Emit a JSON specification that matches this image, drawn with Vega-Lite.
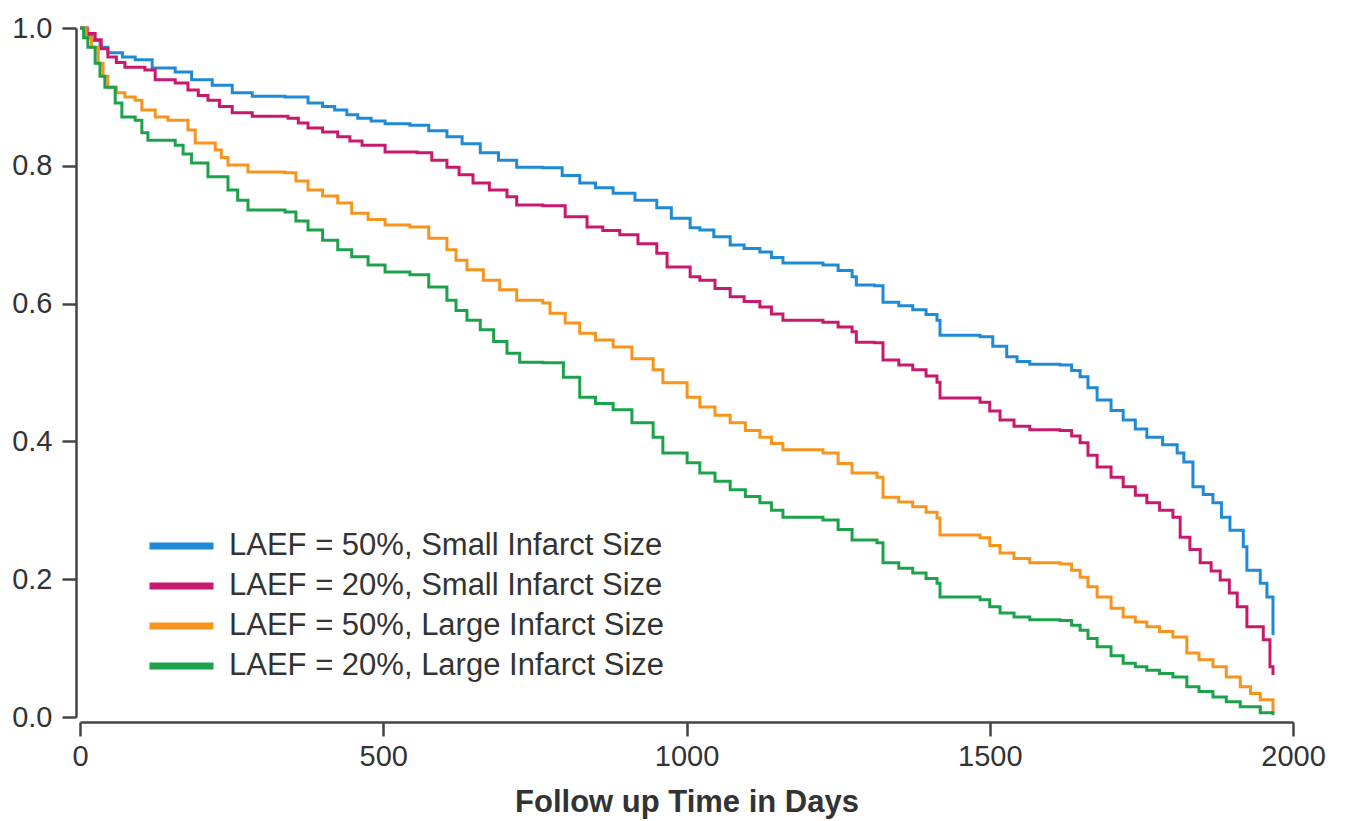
{
  "$schema": "https://vega.github.io/schema/vega-lite/v6.json",
  "width": 1213,
  "height": 689,
  "autosize": {"type": "none"},
  "padding": {"left": 80, "top": 28, "right": 52, "bottom": 104},
  "background": "white",
  "config": {"view": {"stroke": null}, "font": "Liberation Sans"},
  "datasets": {
    "km": [
      {"group": "LAEF = 50%, Small Infarct Size", "day": 0, "survival": 1.0},
      {"group": "LAEF = 50%, Small Infarct Size", "day": 10, "survival": 0.99},
      {"group": "LAEF = 50%, Small Infarct Size", "day": 20, "survival": 0.982},
      {"group": "LAEF = 50%, Small Infarct Size", "day": 33, "survival": 0.972},
      {"group": "LAEF = 50%, Small Infarct Size", "day": 46, "survival": 0.964},
      {"group": "LAEF = 50%, Small Infarct Size", "day": 70, "survival": 0.958},
      {"group": "LAEF = 50%, Small Infarct Size", "day": 91, "survival": 0.954},
      {"group": "LAEF = 50%, Small Infarct Size", "day": 119, "survival": 0.942},
      {"group": "LAEF = 50%, Small Infarct Size", "day": 157, "survival": 0.936},
      {"group": "LAEF = 50%, Small Infarct Size", "day": 184, "survival": 0.925},
      {"group": "LAEF = 50%, Small Infarct Size", "day": 218, "survival": 0.917},
      {"group": "LAEF = 50%, Small Infarct Size", "day": 251, "survival": 0.906},
      {"group": "LAEF = 50%, Small Infarct Size", "day": 284, "survival": 0.901},
      {"group": "LAEF = 50%, Small Infarct Size", "day": 338, "survival": 0.9},
      {"group": "LAEF = 50%, Small Infarct Size", "day": 376, "survival": 0.891},
      {"group": "LAEF = 50%, Small Infarct Size", "day": 400, "survival": 0.886},
      {"group": "LAEF = 50%, Small Infarct Size", "day": 420, "survival": 0.881},
      {"group": "LAEF = 50%, Small Infarct Size", "day": 440, "survival": 0.874},
      {"group": "LAEF = 50%, Small Infarct Size", "day": 458, "survival": 0.869},
      {"group": "LAEF = 50%, Small Infarct Size", "day": 480, "survival": 0.865},
      {"group": "LAEF = 50%, Small Infarct Size", "day": 503, "survival": 0.861},
      {"group": "LAEF = 50%, Small Infarct Size", "day": 544, "survival": 0.859},
      {"group": "LAEF = 50%, Small Infarct Size", "day": 575, "survival": 0.851},
      {"group": "LAEF = 50%, Small Infarct Size", "day": 605, "survival": 0.842},
      {"group": "LAEF = 50%, Small Infarct Size", "day": 630, "survival": 0.832},
      {"group": "LAEF = 50%, Small Infarct Size", "day": 660, "survival": 0.819},
      {"group": "LAEF = 50%, Small Infarct Size", "day": 690, "survival": 0.808},
      {"group": "LAEF = 50%, Small Infarct Size", "day": 720, "survival": 0.798},
      {"group": "LAEF = 50%, Small Infarct Size", "day": 763, "survival": 0.797},
      {"group": "LAEF = 50%, Small Infarct Size", "day": 795, "survival": 0.786},
      {"group": "LAEF = 50%, Small Infarct Size", "day": 824, "survival": 0.775},
      {"group": "LAEF = 50%, Small Infarct Size", "day": 850, "survival": 0.768},
      {"group": "LAEF = 50%, Small Infarct Size", "day": 879, "survival": 0.76},
      {"group": "LAEF = 50%, Small Infarct Size", "day": 915, "survival": 0.75},
      {"group": "LAEF = 50%, Small Infarct Size", "day": 951, "survival": 0.739},
      {"group": "LAEF = 50%, Small Infarct Size", "day": 975, "survival": 0.724},
      {"group": "LAEF = 50%, Small Infarct Size", "day": 1006, "survival": 0.71},
      {"group": "LAEF = 50%, Small Infarct Size", "day": 1022, "survival": 0.707},
      {"group": "LAEF = 50%, Small Infarct Size", "day": 1045, "survival": 0.697},
      {"group": "LAEF = 50%, Small Infarct Size", "day": 1072, "survival": 0.685},
      {"group": "LAEF = 50%, Small Infarct Size", "day": 1095, "survival": 0.68},
      {"group": "LAEF = 50%, Small Infarct Size", "day": 1121, "survival": 0.675},
      {"group": "LAEF = 50%, Small Infarct Size", "day": 1140, "survival": 0.667},
      {"group": "LAEF = 50%, Small Infarct Size", "day": 1159, "survival": 0.659},
      {"group": "LAEF = 50%, Small Infarct Size", "day": 1225, "survival": 0.656},
      {"group": "LAEF = 50%, Small Infarct Size", "day": 1250, "survival": 0.648},
      {"group": "LAEF = 50%, Small Infarct Size", "day": 1273, "survival": 0.639},
      {"group": "LAEF = 50%, Small Infarct Size", "day": 1280, "survival": 0.627},
      {"group": "LAEF = 50%, Small Infarct Size", "day": 1310, "survival": 0.626},
      {"group": "LAEF = 50%, Small Infarct Size", "day": 1324, "survival": 0.602},
      {"group": "LAEF = 50%, Small Infarct Size", "day": 1350, "survival": 0.597},
      {"group": "LAEF = 50%, Small Infarct Size", "day": 1373, "survival": 0.591},
      {"group": "LAEF = 50%, Small Infarct Size", "day": 1395, "survival": 0.584},
      {"group": "LAEF = 50%, Small Infarct Size", "day": 1413, "survival": 0.576},
      {"group": "LAEF = 50%, Small Infarct Size", "day": 1418, "survival": 0.554},
      {"group": "LAEF = 50%, Small Infarct Size", "day": 1484, "survival": 0.552},
      {"group": "LAEF = 50%, Small Infarct Size", "day": 1505, "survival": 0.538},
      {"group": "LAEF = 50%, Small Infarct Size", "day": 1528, "survival": 0.523},
      {"group": "LAEF = 50%, Small Infarct Size", "day": 1545, "survival": 0.516},
      {"group": "LAEF = 50%, Small Infarct Size", "day": 1566, "survival": 0.512},
      {"group": "LAEF = 50%, Small Infarct Size", "day": 1616, "survival": 0.511},
      {"group": "LAEF = 50%, Small Infarct Size", "day": 1635, "survival": 0.503},
      {"group": "LAEF = 50%, Small Infarct Size", "day": 1649, "survival": 0.494},
      {"group": "LAEF = 50%, Small Infarct Size", "day": 1662, "survival": 0.478},
      {"group": "LAEF = 50%, Small Infarct Size", "day": 1677, "survival": 0.46},
      {"group": "LAEF = 50%, Small Infarct Size", "day": 1700, "survival": 0.445},
      {"group": "LAEF = 50%, Small Infarct Size", "day": 1720, "survival": 0.431},
      {"group": "LAEF = 50%, Small Infarct Size", "day": 1740, "survival": 0.418},
      {"group": "LAEF = 50%, Small Infarct Size", "day": 1759, "survival": 0.406},
      {"group": "LAEF = 50%, Small Infarct Size", "day": 1785, "survival": 0.395},
      {"group": "LAEF = 50%, Small Infarct Size", "day": 1809, "survival": 0.383},
      {"group": "LAEF = 50%, Small Infarct Size", "day": 1820, "survival": 0.37},
      {"group": "LAEF = 50%, Small Infarct Size", "day": 1835, "survival": 0.334},
      {"group": "LAEF = 50%, Small Infarct Size", "day": 1852, "survival": 0.323},
      {"group": "LAEF = 50%, Small Infarct Size", "day": 1868, "survival": 0.311},
      {"group": "LAEF = 50%, Small Infarct Size", "day": 1882, "survival": 0.29},
      {"group": "LAEF = 50%, Small Infarct Size", "day": 1896, "survival": 0.271},
      {"group": "LAEF = 50%, Small Infarct Size", "day": 1918, "survival": 0.247},
      {"group": "LAEF = 50%, Small Infarct Size", "day": 1924, "survival": 0.213},
      {"group": "LAEF = 50%, Small Infarct Size", "day": 1946, "survival": 0.194},
      {"group": "LAEF = 50%, Small Infarct Size", "day": 1957, "survival": 0.174},
      {"group": "LAEF = 50%, Small Infarct Size", "day": 1967, "survival": 0.119},

      {"group": "LAEF = 20%, Small Infarct Size", "day": 0, "survival": 1.0},
      {"group": "LAEF = 20%, Small Infarct Size", "day": 12, "survival": 0.992},
      {"group": "LAEF = 20%, Small Infarct Size", "day": 25, "survival": 0.983},
      {"group": "LAEF = 20%, Small Infarct Size", "day": 35, "survival": 0.97},
      {"group": "LAEF = 20%, Small Infarct Size", "day": 46, "survival": 0.958},
      {"group": "LAEF = 20%, Small Infarct Size", "day": 60, "survival": 0.95},
      {"group": "LAEF = 20%, Small Infarct Size", "day": 74, "survival": 0.943},
      {"group": "LAEF = 20%, Small Infarct Size", "day": 107, "survival": 0.939},
      {"group": "LAEF = 20%, Small Infarct Size", "day": 124, "survival": 0.925},
      {"group": "LAEF = 20%, Small Infarct Size", "day": 157, "survival": 0.92},
      {"group": "LAEF = 20%, Small Infarct Size", "day": 178, "survival": 0.91},
      {"group": "LAEF = 20%, Small Infarct Size", "day": 195, "survival": 0.902},
      {"group": "LAEF = 20%, Small Infarct Size", "day": 211, "survival": 0.895},
      {"group": "LAEF = 20%, Small Infarct Size", "day": 230, "survival": 0.886},
      {"group": "LAEF = 20%, Small Infarct Size", "day": 251, "survival": 0.877},
      {"group": "LAEF = 20%, Small Infarct Size", "day": 284, "survival": 0.872},
      {"group": "LAEF = 20%, Small Infarct Size", "day": 343, "survival": 0.869},
      {"group": "LAEF = 20%, Small Infarct Size", "day": 360, "survival": 0.862},
      {"group": "LAEF = 20%, Small Infarct Size", "day": 376, "survival": 0.855},
      {"group": "LAEF = 20%, Small Infarct Size", "day": 400, "survival": 0.849},
      {"group": "LAEF = 20%, Small Infarct Size", "day": 425, "survival": 0.842},
      {"group": "LAEF = 20%, Small Infarct Size", "day": 445, "survival": 0.836},
      {"group": "LAEF = 20%, Small Infarct Size", "day": 465, "survival": 0.83},
      {"group": "LAEF = 20%, Small Infarct Size", "day": 503, "survival": 0.82},
      {"group": "LAEF = 20%, Small Infarct Size", "day": 556, "survival": 0.819},
      {"group": "LAEF = 20%, Small Infarct Size", "day": 580, "survival": 0.808},
      {"group": "LAEF = 20%, Small Infarct Size", "day": 605, "survival": 0.798},
      {"group": "LAEF = 20%, Small Infarct Size", "day": 625, "survival": 0.787},
      {"group": "LAEF = 20%, Small Infarct Size", "day": 648, "survival": 0.775},
      {"group": "LAEF = 20%, Small Infarct Size", "day": 675, "survival": 0.765},
      {"group": "LAEF = 20%, Small Infarct Size", "day": 704, "survival": 0.755},
      {"group": "LAEF = 20%, Small Infarct Size", "day": 720, "survival": 0.743},
      {"group": "LAEF = 20%, Small Infarct Size", "day": 763, "survival": 0.742},
      {"group": "LAEF = 20%, Small Infarct Size", "day": 800, "survival": 0.726},
      {"group": "LAEF = 20%, Small Infarct Size", "day": 836, "survival": 0.711},
      {"group": "LAEF = 20%, Small Infarct Size", "day": 862, "survival": 0.706},
      {"group": "LAEF = 20%, Small Infarct Size", "day": 890, "survival": 0.7},
      {"group": "LAEF = 20%, Small Infarct Size", "day": 920, "survival": 0.687},
      {"group": "LAEF = 20%, Small Infarct Size", "day": 951, "survival": 0.673},
      {"group": "LAEF = 20%, Small Infarct Size", "day": 968, "survival": 0.653},
      {"group": "LAEF = 20%, Small Infarct Size", "day": 1006, "survival": 0.639},
      {"group": "LAEF = 20%, Small Infarct Size", "day": 1022, "survival": 0.634},
      {"group": "LAEF = 20%, Small Infarct Size", "day": 1047, "survival": 0.622},
      {"group": "LAEF = 20%, Small Infarct Size", "day": 1072, "survival": 0.61},
      {"group": "LAEF = 20%, Small Infarct Size", "day": 1095, "survival": 0.603},
      {"group": "LAEF = 20%, Small Infarct Size", "day": 1121, "survival": 0.595},
      {"group": "LAEF = 20%, Small Infarct Size", "day": 1140, "survival": 0.585},
      {"group": "LAEF = 20%, Small Infarct Size", "day": 1159, "survival": 0.576},
      {"group": "LAEF = 20%, Small Infarct Size", "day": 1225, "survival": 0.573},
      {"group": "LAEF = 20%, Small Infarct Size", "day": 1250, "survival": 0.566},
      {"group": "LAEF = 20%, Small Infarct Size", "day": 1273, "survival": 0.559},
      {"group": "LAEF = 20%, Small Infarct Size", "day": 1280, "survival": 0.544},
      {"group": "LAEF = 20%, Small Infarct Size", "day": 1310, "survival": 0.543},
      {"group": "LAEF = 20%, Small Infarct Size", "day": 1324, "survival": 0.518},
      {"group": "LAEF = 20%, Small Infarct Size", "day": 1350, "survival": 0.511},
      {"group": "LAEF = 20%, Small Infarct Size", "day": 1373, "survival": 0.504},
      {"group": "LAEF = 20%, Small Infarct Size", "day": 1395, "survival": 0.495},
      {"group": "LAEF = 20%, Small Infarct Size", "day": 1413, "survival": 0.486},
      {"group": "LAEF = 20%, Small Infarct Size", "day": 1418, "survival": 0.463},
      {"group": "LAEF = 20%, Small Infarct Size", "day": 1484, "survival": 0.457},
      {"group": "LAEF = 20%, Small Infarct Size", "day": 1500, "survival": 0.444},
      {"group": "LAEF = 20%, Small Infarct Size", "day": 1517, "survival": 0.431},
      {"group": "LAEF = 20%, Small Infarct Size", "day": 1540, "survival": 0.422},
      {"group": "LAEF = 20%, Small Infarct Size", "day": 1566, "survival": 0.417},
      {"group": "LAEF = 20%, Small Infarct Size", "day": 1616, "survival": 0.416},
      {"group": "LAEF = 20%, Small Infarct Size", "day": 1635, "survival": 0.408},
      {"group": "LAEF = 20%, Small Infarct Size", "day": 1649, "survival": 0.398},
      {"group": "LAEF = 20%, Small Infarct Size", "day": 1662, "survival": 0.38},
      {"group": "LAEF = 20%, Small Infarct Size", "day": 1677, "survival": 0.363},
      {"group": "LAEF = 20%, Small Infarct Size", "day": 1700, "survival": 0.348},
      {"group": "LAEF = 20%, Small Infarct Size", "day": 1720, "survival": 0.334},
      {"group": "LAEF = 20%, Small Infarct Size", "day": 1740, "survival": 0.322},
      {"group": "LAEF = 20%, Small Infarct Size", "day": 1759, "survival": 0.311},
      {"group": "LAEF = 20%, Small Infarct Size", "day": 1780, "survival": 0.3},
      {"group": "LAEF = 20%, Small Infarct Size", "day": 1802, "survival": 0.29},
      {"group": "LAEF = 20%, Small Infarct Size", "day": 1814, "survival": 0.261},
      {"group": "LAEF = 20%, Small Infarct Size", "day": 1830, "survival": 0.243},
      {"group": "LAEF = 20%, Small Infarct Size", "day": 1847, "survival": 0.224},
      {"group": "LAEF = 20%, Small Infarct Size", "day": 1865, "survival": 0.212},
      {"group": "LAEF = 20%, Small Infarct Size", "day": 1880, "survival": 0.199},
      {"group": "LAEF = 20%, Small Infarct Size", "day": 1895, "survival": 0.18},
      {"group": "LAEF = 20%, Small Infarct Size", "day": 1908, "survival": 0.16},
      {"group": "LAEF = 20%, Small Infarct Size", "day": 1924, "survival": 0.131},
      {"group": "LAEF = 20%, Small Infarct Size", "day": 1951, "survival": 0.112},
      {"group": "LAEF = 20%, Small Infarct Size", "day": 1962, "survival": 0.073},
      {"group": "LAEF = 20%, Small Infarct Size", "day": 1967, "survival": 0.061},

      {"group": "LAEF = 50%, Large Infarct Size", "day": 0, "survival": 1.0},
      {"group": "LAEF = 50%, Large Infarct Size", "day": 10, "survival": 0.986},
      {"group": "LAEF = 50%, Large Infarct Size", "day": 19, "survival": 0.972},
      {"group": "LAEF = 50%, Large Infarct Size", "day": 30, "survival": 0.949},
      {"group": "LAEF = 50%, Large Infarct Size", "day": 38, "survival": 0.93},
      {"group": "LAEF = 50%, Large Infarct Size", "day": 46, "survival": 0.914},
      {"group": "LAEF = 50%, Large Infarct Size", "day": 60, "survival": 0.906},
      {"group": "LAEF = 50%, Large Infarct Size", "day": 74, "survival": 0.9},
      {"group": "LAEF = 50%, Large Infarct Size", "day": 91, "survival": 0.895},
      {"group": "LAEF = 50%, Large Infarct Size", "day": 102, "survival": 0.881},
      {"group": "LAEF = 50%, Large Infarct Size", "day": 124, "survival": 0.871},
      {"group": "LAEF = 50%, Large Infarct Size", "day": 145, "survival": 0.866},
      {"group": "LAEF = 50%, Large Infarct Size", "day": 178, "survival": 0.852},
      {"group": "LAEF = 50%, Large Infarct Size", "day": 190, "survival": 0.833},
      {"group": "LAEF = 50%, Large Infarct Size", "day": 223, "survival": 0.823},
      {"group": "LAEF = 50%, Large Infarct Size", "day": 233, "survival": 0.812},
      {"group": "LAEF = 50%, Large Infarct Size", "day": 244, "survival": 0.801},
      {"group": "LAEF = 50%, Large Infarct Size", "day": 277, "survival": 0.791},
      {"group": "LAEF = 50%, Large Infarct Size", "day": 338, "survival": 0.79},
      {"group": "LAEF = 50%, Large Infarct Size", "day": 356, "survival": 0.778},
      {"group": "LAEF = 50%, Large Infarct Size", "day": 376, "survival": 0.765},
      {"group": "LAEF = 50%, Large Infarct Size", "day": 400, "survival": 0.756},
      {"group": "LAEF = 50%, Large Infarct Size", "day": 425, "survival": 0.746},
      {"group": "LAEF = 50%, Large Infarct Size", "day": 448, "survival": 0.731},
      {"group": "LAEF = 50%, Large Infarct Size", "day": 475, "survival": 0.722},
      {"group": "LAEF = 50%, Large Infarct Size", "day": 503, "survival": 0.714},
      {"group": "LAEF = 50%, Large Infarct Size", "day": 544, "survival": 0.711},
      {"group": "LAEF = 50%, Large Infarct Size", "day": 575, "survival": 0.695},
      {"group": "LAEF = 50%, Large Infarct Size", "day": 605, "survival": 0.678},
      {"group": "LAEF = 50%, Large Infarct Size", "day": 620, "survival": 0.663},
      {"group": "LAEF = 50%, Large Infarct Size", "day": 638, "survival": 0.649},
      {"group": "LAEF = 50%, Large Infarct Size", "day": 665, "survival": 0.634},
      {"group": "LAEF = 50%, Large Infarct Size", "day": 692, "survival": 0.62},
      {"group": "LAEF = 50%, Large Infarct Size", "day": 720, "survival": 0.605},
      {"group": "LAEF = 50%, Large Infarct Size", "day": 763, "survival": 0.601},
      {"group": "LAEF = 50%, Large Infarct Size", "day": 775, "survival": 0.586},
      {"group": "LAEF = 50%, Large Infarct Size", "day": 800, "survival": 0.572},
      {"group": "LAEF = 50%, Large Infarct Size", "day": 824, "survival": 0.557},
      {"group": "LAEF = 50%, Large Infarct Size", "day": 850, "survival": 0.547},
      {"group": "LAEF = 50%, Large Infarct Size", "day": 879, "survival": 0.537},
      {"group": "LAEF = 50%, Large Infarct Size", "day": 910, "survival": 0.52},
      {"group": "LAEF = 50%, Large Infarct Size", "day": 945, "survival": 0.504},
      {"group": "LAEF = 50%, Large Infarct Size", "day": 961, "survival": 0.485},
      {"group": "LAEF = 50%, Large Infarct Size", "day": 1001, "survival": 0.464},
      {"group": "LAEF = 50%, Large Infarct Size", "day": 1022, "survival": 0.45},
      {"group": "LAEF = 50%, Large Infarct Size", "day": 1047, "survival": 0.438},
      {"group": "LAEF = 50%, Large Infarct Size", "day": 1072, "survival": 0.427},
      {"group": "LAEF = 50%, Large Infarct Size", "day": 1097, "survival": 0.416},
      {"group": "LAEF = 50%, Large Infarct Size", "day": 1121, "survival": 0.406},
      {"group": "LAEF = 50%, Large Infarct Size", "day": 1140, "survival": 0.397},
      {"group": "LAEF = 50%, Large Infarct Size", "day": 1159, "survival": 0.388},
      {"group": "LAEF = 50%, Large Infarct Size", "day": 1225, "survival": 0.383},
      {"group": "LAEF = 50%, Large Infarct Size", "day": 1250, "survival": 0.368},
      {"group": "LAEF = 50%, Large Infarct Size", "day": 1273, "survival": 0.354},
      {"group": "LAEF = 50%, Large Infarct Size", "day": 1314, "survival": 0.348},
      {"group": "LAEF = 50%, Large Infarct Size", "day": 1324, "survival": 0.319},
      {"group": "LAEF = 50%, Large Infarct Size", "day": 1350, "survival": 0.312},
      {"group": "LAEF = 50%, Large Infarct Size", "day": 1373, "survival": 0.305},
      {"group": "LAEF = 50%, Large Infarct Size", "day": 1395, "survival": 0.297},
      {"group": "LAEF = 50%, Large Infarct Size", "day": 1413, "survival": 0.289},
      {"group": "LAEF = 50%, Large Infarct Size", "day": 1418, "survival": 0.264},
      {"group": "LAEF = 50%, Large Infarct Size", "day": 1484, "survival": 0.26},
      {"group": "LAEF = 50%, Large Infarct Size", "day": 1500, "survival": 0.249},
      {"group": "LAEF = 50%, Large Infarct Size", "day": 1517, "survival": 0.238},
      {"group": "LAEF = 50%, Large Infarct Size", "day": 1540, "survival": 0.23},
      {"group": "LAEF = 50%, Large Infarct Size", "day": 1566, "survival": 0.224},
      {"group": "LAEF = 50%, Large Infarct Size", "day": 1616, "survival": 0.222},
      {"group": "LAEF = 50%, Large Infarct Size", "day": 1635, "survival": 0.213},
      {"group": "LAEF = 50%, Large Infarct Size", "day": 1649, "survival": 0.203},
      {"group": "LAEF = 50%, Large Infarct Size", "day": 1662, "survival": 0.189},
      {"group": "LAEF = 50%, Large Infarct Size", "day": 1677, "survival": 0.174},
      {"group": "LAEF = 50%, Large Infarct Size", "day": 1700, "survival": 0.158},
      {"group": "LAEF = 50%, Large Infarct Size", "day": 1720, "survival": 0.145},
      {"group": "LAEF = 50%, Large Infarct Size", "day": 1740, "survival": 0.138},
      {"group": "LAEF = 50%, Large Infarct Size", "day": 1759, "survival": 0.131},
      {"group": "LAEF = 50%, Large Infarct Size", "day": 1780, "survival": 0.124},
      {"group": "LAEF = 50%, Large Infarct Size", "day": 1802, "survival": 0.116},
      {"group": "LAEF = 50%, Large Infarct Size", "day": 1825, "survival": 0.093},
      {"group": "LAEF = 50%, Large Infarct Size", "day": 1845, "survival": 0.083},
      {"group": "LAEF = 50%, Large Infarct Size", "day": 1868, "survival": 0.073},
      {"group": "LAEF = 50%, Large Infarct Size", "day": 1890, "survival": 0.058},
      {"group": "LAEF = 50%, Large Infarct Size", "day": 1913, "survival": 0.044},
      {"group": "LAEF = 50%, Large Infarct Size", "day": 1930, "survival": 0.034},
      {"group": "LAEF = 50%, Large Infarct Size", "day": 1946, "survival": 0.025},
      {"group": "LAEF = 50%, Large Infarct Size", "day": 1967, "survival": 0.006},

      {"group": "LAEF = 20%, Large Infarct Size", "day": 0, "survival": 1.0},
      {"group": "LAEF = 20%, Large Infarct Size", "day": 6, "survival": 0.986},
      {"group": "LAEF = 20%, Large Infarct Size", "day": 13, "survival": 0.972},
      {"group": "LAEF = 20%, Large Infarct Size", "day": 25, "survival": 0.949},
      {"group": "LAEF = 20%, Large Infarct Size", "day": 33, "survival": 0.93},
      {"group": "LAEF = 20%, Large Infarct Size", "day": 41, "survival": 0.914},
      {"group": "LAEF = 20%, Large Infarct Size", "day": 58, "survival": 0.891},
      {"group": "LAEF = 20%, Large Infarct Size", "day": 69, "survival": 0.871},
      {"group": "LAEF = 20%, Large Infarct Size", "day": 91, "survival": 0.866},
      {"group": "LAEF = 20%, Large Infarct Size", "day": 102, "survival": 0.848},
      {"group": "LAEF = 20%, Large Infarct Size", "day": 112, "survival": 0.837},
      {"group": "LAEF = 20%, Large Infarct Size", "day": 157, "survival": 0.83},
      {"group": "LAEF = 20%, Large Infarct Size", "day": 170, "survival": 0.817},
      {"group": "LAEF = 20%, Large Infarct Size", "day": 184, "survival": 0.804},
      {"group": "LAEF = 20%, Large Infarct Size", "day": 211, "survival": 0.784},
      {"group": "LAEF = 20%, Large Infarct Size", "day": 244, "survival": 0.765},
      {"group": "LAEF = 20%, Large Infarct Size", "day": 260, "survival": 0.75},
      {"group": "LAEF = 20%, Large Infarct Size", "day": 277, "survival": 0.736},
      {"group": "LAEF = 20%, Large Infarct Size", "day": 338, "survival": 0.733},
      {"group": "LAEF = 20%, Large Infarct Size", "day": 356, "survival": 0.72},
      {"group": "LAEF = 20%, Large Infarct Size", "day": 376, "survival": 0.707},
      {"group": "LAEF = 20%, Large Infarct Size", "day": 400, "survival": 0.692},
      {"group": "LAEF = 20%, Large Infarct Size", "day": 425, "survival": 0.678},
      {"group": "LAEF = 20%, Large Infarct Size", "day": 448, "survival": 0.668},
      {"group": "LAEF = 20%, Large Infarct Size", "day": 475, "survival": 0.656},
      {"group": "LAEF = 20%, Large Infarct Size", "day": 503, "survival": 0.646},
      {"group": "LAEF = 20%, Large Infarct Size", "day": 544, "survival": 0.642},
      {"group": "LAEF = 20%, Large Infarct Size", "day": 575, "survival": 0.624},
      {"group": "LAEF = 20%, Large Infarct Size", "day": 605, "survival": 0.605},
      {"group": "LAEF = 20%, Large Infarct Size", "day": 620, "survival": 0.59},
      {"group": "LAEF = 20%, Large Infarct Size", "day": 638, "survival": 0.576},
      {"group": "LAEF = 20%, Large Infarct Size", "day": 660, "survival": 0.562},
      {"group": "LAEF = 20%, Large Infarct Size", "day": 682, "survival": 0.545},
      {"group": "LAEF = 20%, Large Infarct Size", "day": 704, "survival": 0.528},
      {"group": "LAEF = 20%, Large Infarct Size", "day": 725, "survival": 0.515},
      {"group": "LAEF = 20%, Large Infarct Size", "day": 763, "survival": 0.514},
      {"group": "LAEF = 20%, Large Infarct Size", "day": 797, "survival": 0.493},
      {"group": "LAEF = 20%, Large Infarct Size", "day": 824, "survival": 0.464},
      {"group": "LAEF = 20%, Large Infarct Size", "day": 850, "survival": 0.455},
      {"group": "LAEF = 20%, Large Infarct Size", "day": 879, "survival": 0.446},
      {"group": "LAEF = 20%, Large Infarct Size", "day": 910, "survival": 0.427},
      {"group": "LAEF = 20%, Large Infarct Size", "day": 945, "survival": 0.406},
      {"group": "LAEF = 20%, Large Infarct Size", "day": 961, "survival": 0.383},
      {"group": "LAEF = 20%, Large Infarct Size", "day": 1001, "survival": 0.369},
      {"group": "LAEF = 20%, Large Infarct Size", "day": 1022, "survival": 0.354},
      {"group": "LAEF = 20%, Large Infarct Size", "day": 1047, "survival": 0.342},
      {"group": "LAEF = 20%, Large Infarct Size", "day": 1072, "survival": 0.33},
      {"group": "LAEF = 20%, Large Infarct Size", "day": 1097, "survival": 0.32},
      {"group": "LAEF = 20%, Large Infarct Size", "day": 1121, "survival": 0.311},
      {"group": "LAEF = 20%, Large Infarct Size", "day": 1140, "survival": 0.3},
      {"group": "LAEF = 20%, Large Infarct Size", "day": 1159, "survival": 0.29},
      {"group": "LAEF = 20%, Large Infarct Size", "day": 1225, "survival": 0.286},
      {"group": "LAEF = 20%, Large Infarct Size", "day": 1250, "survival": 0.272},
      {"group": "LAEF = 20%, Large Infarct Size", "day": 1273, "survival": 0.257},
      {"group": "LAEF = 20%, Large Infarct Size", "day": 1314, "survival": 0.253},
      {"group": "LAEF = 20%, Large Infarct Size", "day": 1324, "survival": 0.224},
      {"group": "LAEF = 20%, Large Infarct Size", "day": 1350, "survival": 0.216},
      {"group": "LAEF = 20%, Large Infarct Size", "day": 1373, "survival": 0.209},
      {"group": "LAEF = 20%, Large Infarct Size", "day": 1395, "survival": 0.201},
      {"group": "LAEF = 20%, Large Infarct Size", "day": 1413, "survival": 0.194},
      {"group": "LAEF = 20%, Large Infarct Size", "day": 1418, "survival": 0.174},
      {"group": "LAEF = 20%, Large Infarct Size", "day": 1484, "survival": 0.17},
      {"group": "LAEF = 20%, Large Infarct Size", "day": 1500, "survival": 0.16},
      {"group": "LAEF = 20%, Large Infarct Size", "day": 1517, "survival": 0.151},
      {"group": "LAEF = 20%, Large Infarct Size", "day": 1540, "survival": 0.145},
      {"group": "LAEF = 20%, Large Infarct Size", "day": 1566, "survival": 0.141},
      {"group": "LAEF = 20%, Large Infarct Size", "day": 1616, "survival": 0.14},
      {"group": "LAEF = 20%, Large Infarct Size", "day": 1635, "survival": 0.133},
      {"group": "LAEF = 20%, Large Infarct Size", "day": 1649, "survival": 0.126},
      {"group": "LAEF = 20%, Large Infarct Size", "day": 1662, "survival": 0.114},
      {"group": "LAEF = 20%, Large Infarct Size", "day": 1677, "survival": 0.102},
      {"group": "LAEF = 20%, Large Infarct Size", "day": 1700, "survival": 0.089},
      {"group": "LAEF = 20%, Large Infarct Size", "day": 1720, "survival": 0.078},
      {"group": "LAEF = 20%, Large Infarct Size", "day": 1740, "survival": 0.073},
      {"group": "LAEF = 20%, Large Infarct Size", "day": 1759, "survival": 0.068},
      {"group": "LAEF = 20%, Large Infarct Size", "day": 1780, "survival": 0.063},
      {"group": "LAEF = 20%, Large Infarct Size", "day": 1802, "survival": 0.058},
      {"group": "LAEF = 20%, Large Infarct Size", "day": 1825, "survival": 0.044},
      {"group": "LAEF = 20%, Large Infarct Size", "day": 1845, "survival": 0.037},
      {"group": "LAEF = 20%, Large Infarct Size", "day": 1868, "survival": 0.029},
      {"group": "LAEF = 20%, Large Infarct Size", "day": 1890, "survival": 0.022},
      {"group": "LAEF = 20%, Large Infarct Size", "day": 1913, "survival": 0.015},
      {"group": "LAEF = 20%, Large Infarct Size", "day": 1946, "survival": 0.006},
      {"group": "LAEF = 20%, Large Infarct Size", "day": 1967, "survival": 0.003}
    ]
  },
  "data": {"name": "km"},
  "mark": {"type": "line", "interpolate": "step-after", "strokeWidth": 3},
  "encoding": {
    "x": {
      "field": "day",
      "type": "quantitative",
      "scale": {"domain": [0, 2000], "nice": false},
      "axis": {
        "values": [0, 500, 1000, 1500, 2000],
        "format": "d",
        "title": "Follow up Time in Days",
        "grid": false,
        "offset": 5,
        "labelFlush": false,
        "domainColor": "#444444",
        "domainWidth": 2.5,
        "tickColor": "#444444",
        "tickWidth": 2.5,
        "tickSize": 14,
        "labelFontSize": 29,
        "labelColor": "#333333",
        "labelPadding": 6,
        "titleFontSize": 31,
        "titleFontWeight": "bold",
        "titleColor": "#333333",
        "titlePadding": 16
      }
    },
    "y": {
      "field": "survival",
      "type": "quantitative",
      "scale": {"domain": [0, 1], "nice": false},
      "axis": {
        "values": [0, 0.2, 0.4, 0.6, 0.8, 1],
        "format": ".1f",
        "title": null,
        "grid": false,
        "offset": 4,
        "domainColor": "#444444",
        "domainWidth": 2.5,
        "tickColor": "#444444",
        "tickWidth": 2.5,
        "tickSize": 14,
        "labelFontSize": 29,
        "labelColor": "#333333",
        "labelPadding": 10
      }
    },
    "color": {
      "field": "group",
      "type": "nominal",
      "scale": {
        "domain": ["LAEF = 50%, Small Infarct Size", "LAEF = 20%, Small Infarct Size", "LAEF = 50%, Large Infarct Size", "LAEF = 20%, Large Infarct Size"],
        "range": ["#1f8ad6", "#c8196e", "#f7941d", "#1ba24a"]
      },
      "legend": {
        "title": null,
        "orient": "none",
        "legendX": 66,
        "legendY": 498,
        "symbolType": "stroke",
        "symbolSize": 4096,
        "symbolStrokeWidth": 7,
        "labelFontSize": 31,
        "labelLimit": 0,
        "labelColor": "#333333",
        "labelOffset": 12,
        "clipHeight": 40,
        "rowPadding": 0,
        "padding": 0
      }
    }
  }
}
